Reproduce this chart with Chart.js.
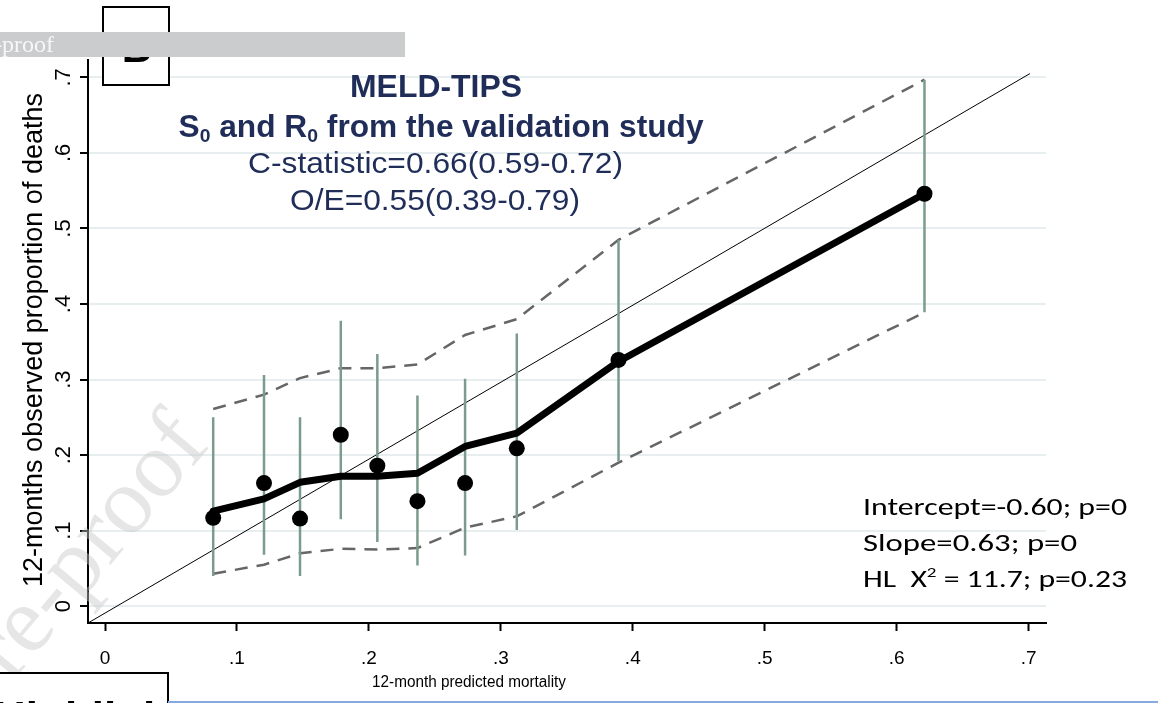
<!DOCTYPE html>
<html>
<head>
<meta charset="utf-8">
<script src="https://cdn.jsdelivr.net/npm/chart.js@4.4.1/dist/chart.umd.min.js"></script>
<style>
  html, body { margin: 0; padding: 0; background: #fff; }
  #calib { display: block; }
</style>
</head>
<body>
<canvas id="calib" width="1158" height="703"></canvas>
<script>
// MELD-TIPS calibration: groups of predicted vs observed 12-month mortality
const predicted = [0.082, 0.1205, 0.1478, 0.1787, 0.2064, 0.2368, 0.2729, 0.3121, 0.3892, 0.6211];
const observed = [0.117, 0.163, 0.116, 0.227, 0.186, 0.139, 0.163, 0.209, 0.326, 0.546];
const obsLow = [0.040, 0.068, 0.040, 0.115, 0.085, 0.054, 0.067, 0.101, 0.192, 0.389];
const obsHigh = [0.250, 0.306, 0.250, 0.378, 0.334, 0.279, 0.301, 0.361, 0.485, 0.697];

// smoothed calibration curve and its band
const smooth = [0.126, 0.142, 0.164, 0.172, 0.172, 0.176, 0.2115, 0.229, 0.324, 0.546];
const bandHigh = [0.261, 0.280, 0.302, 0.315, 0.315, 0.320, 0.359, 0.380, 0.485, 0.697];
const bandLow = [0.043, 0.055, 0.070, 0.076, 0.075, 0.077, 0.104, 0.119, 0.190, 0.389];

// reference line, corner to corner
const refX = [-0.0129, 0.701];
const refY = [-0.0222, 0.705];

const xTicks = [0, 0.1, 0.2, 0.3, 0.4, 0.5, 0.6, 0.7];
const yTicks = [0, 0.1, 0.2, 0.3, 0.4, 0.5, 0.6, 0.7];
const xRange = [-0.0129, 0.7132];
const yRange = [-0.0222, 0.723];

const titleLines = ['MELD-TIPS', 'from the validation study', 'C-statistic=0.66(0.59-0.72)', 'O/E=0.55(0.39-0.79)'];
const statLines = ['Intercept=-0.60; p=0', 'Slope=0.63; p=0', ' = 11.7; p=0.23'];
const xTitle = '12-month predicted mortality';
const yTitle = '12-months observed proportion of deaths';

const ARIAL = '"Liberation Sans", Arial, sans-serif';
const CALIBRI = 'Carlito, Lato, sans-serif';
const SERIF = '"Liberation Serif", "Times New Roman", serif';
const NAVY = '#1f2d58';

const pairs = (xs, ys) => xs.map((x, i) => ({ x: x, y: ys[i] }));

function spikes() {
    const out = [];
    predicted.forEach((x, i) => {
        out.push({ x: x, y: obsLow[i] }, { x: x, y: obsHigh[i] }, { x: x, y: null });
    });
    return out;
}

const tickText = v => v === 0 ? '0' : v.toFixed(1).replace(/^0/, '');

// draws a run of text pieces squeezed or stretched to a given width
function fitText(ctx, parts, x, y, width, align) {
    let total = 0;
    parts.forEach(p => { ctx.font = p.font; p.w = ctx.measureText(p.t).width; total += p.w; });
    const k = width / total;
    const x0 = align === 'left' ? x : x - width / 2;
    ctx.save();
    ctx.translate(x0, y);
    ctx.scale(k, 1);
    ctx.textAlign = 'left';
    ctx.textBaseline = 'alphabetic';
    let cx = 0;
    parts.forEach(p => { ctx.font = p.font; ctx.fillText(p.t, cx, p.dy || 0); cx += p.w; });
    ctx.restore();
}

const watermark = {
    id: 'watermark',
    beforeDatasetsDraw(chart) {
        const ctx = chart.ctx;
        ctx.save();
        ctx.translate(211, 445);
        ctx.rotate(-50 * Math.PI / 180);
        ctx.font = '95px ' + SERIF;
        ctx.fillStyle = 'rgba(200,200,200,0.45)';
        ctx.textAlign = 'right';
        ctx.fillText('Journal Pre-proof', 0, 0);
        ctx.restore();
    }
};

const annotations = {
    id: 'annotations',
    afterDraw(chart) {
        const ctx = chart.ctx;
        const xs = chart.scales.x, ys = chart.scales.y;
        ctx.save();
        ctx.fillStyle = '#000';

        // tick labels
        ctx.font = '19px ' + ARIAL;
        ctx.textAlign = 'center';
        ctx.textBaseline = 'alphabetic';
        xs.ticks.forEach(t => ctx.fillText(tickText(t.value), xs.getPixelForValue(t.value), 663.5));
        ctx.font = '22px ' + ARIAL;
        ys.ticks.forEach(t => {
            ctx.save();
            ctx.translate(70, ys.getPixelForValue(t.value));
            ctx.rotate(-Math.PI / 2);
            ctx.fillText(tickText(t.value), 0, 0);
            ctx.restore();
        });

        // axis titles
        fitText(ctx, [{ t: xTitle, font: '16px ' + ARIAL }], 469, 687, 194);
        ctx.save();
        ctx.translate(42, 340);
        ctx.rotate(-Math.PI / 2);
        fitText(ctx, [{ t: yTitle, font: '27px ' + ARIAL }], 0, 0, 494);
        ctx.restore();

        // heading block
        ctx.fillStyle = NAVY;
        const bold = 'bold 31px ' + ARIAL, sub = 'bold 19px ' + ARIAL;
        fitText(ctx, [{ t: titleLines[0], font: bold }], 436, 97, 172);
        fitText(ctx, [
            { t: 'S', font: bold }, { t: '0', font: sub, dy: 5 },
            { t: ' and R', font: bold }, { t: '0', font: sub, dy: 5 },
            { t: ' ' + titleLines[1], font: bold }
        ], 441, 137, 525);
        fitText(ctx, [{ t: titleLines[2], font: '29px ' + ARIAL }], 435.5, 173, 375);
        fitText(ctx, [{ t: titleLines[3], font: '29px ' + ARIAL }], 435, 210, 290);

        // calibration statistics
        ctx.fillStyle = '#000';
        const cal = '25px ' + CALIBRI;
        fitText(ctx, [{ t: statLines[0], font: cal }], 863, 515, 264, 'left');
        fitText(ctx, [{ t: statLines[1], font: cal }], 863, 551, 214, 'left');
        fitText(ctx, [
            { t: 'HL  X', font: cal }, { t: '2', font: '15px ' + CALIBRI, dy: -10 },
            { t: statLines[2], font: cal }
        ], 863, 587, 264, 'left');

        // panel letter box
        ctx.fillStyle = '#fff';
        ctx.fillRect(103, 7, 66, 78);
        ctx.strokeStyle = '#000';
        ctx.lineWidth = 2;
        ctx.strokeRect(103, 7, 66, 78);
        ctx.fillStyle = '#000';
        ctx.font = 'bold 42px ' + ARIAL;
        ctx.textAlign = 'center';
        ctx.fillText('B', 137, 62);

        // page header strip
        ctx.fillStyle = '#cbcccd';
        ctx.fillRect(0, 32, 405, 25);
        ctx.fillStyle = '#f7f7f7';
        ctx.font = '24px ' + SERIF;
        ctx.textAlign = 'right';
        ctx.fillText('Journal Pre-proof', 54, 52);

        // box at the lower left and page rule
        ctx.fillStyle = '#fff';
        ctx.fillRect(0, 672, 168, 40);
        ctx.beginPath();
        ctx.moveTo(0, 673);
        ctx.lineTo(168, 673);
        ctx.lineTo(168, 703);
        ctx.stroke();
        ctx.fillStyle = '#000';
        ctx.font = 'bold 44px ' + ARIAL;
        ctx.textAlign = 'left';
        ctx.fillText('Highlights', -6, 733);
        ctx.strokeStyle = '#86a9df';
        ctx.beginPath();
        ctx.moveTo(168, 702);
        ctx.lineTo(1158, 702);
        ctx.stroke();
        ctx.restore();
    }
};

const ctx = document.getElementById('calib').getContext('2d');
new Chart(ctx, {
    type: 'scatter',
    data: {
        datasets: [
            {
                data: pairs(predicted, observed),
                pointRadius: 8,
                pointBackgroundColor: '#000',
                pointBorderWidth: 0,
                showLine: false,
                order: 0
            },
            {
                data: pairs(predicted, smooth),
                showLine: true,
                borderColor: '#000',
                borderWidth: 7,
                borderCapStyle: 'round',
                borderJoinStyle: 'round',
                pointRadius: 0,
                order: 1
            },
            {
                data: spikes(),
                showLine: true,
                spanGaps: false,
                borderColor: '#7b9c8d',
                borderWidth: 2.5,
                pointRadius: 0,
                order: 2
            },
            {
                data: pairs(refX, refY),
                showLine: true,
                borderColor: '#000',
                borderWidth: 1,
                pointRadius: 0,
                order: 3
            },
            {
                data: pairs(predicted, bandHigh),
                showLine: true,
                borderColor: '#666',
                borderWidth: 2.5,
                borderDash: [13, 9],
                pointRadius: 0,
                order: 4
            },
            {
                data: pairs(predicted, bandLow),
                showLine: true,
                borderColor: '#666',
                borderWidth: 2.5,
                borderDash: [13, 9],
                pointRadius: 0,
                order: 4
            }
        ]
    },
    options: {
        responsive: false,
        animation: false,
        events: [],
        layout: { padding: { top: 60, right: 112, left: 0, bottom: 0 } },
        plugins: { legend: { display: false }, tooltip: { enabled: false } },
        scales: {
            x: {
                type: 'linear',
                min: xRange[0],
                max: xRange[1],
                afterBuildTicks: s => { s.ticks = xTicks.map(v => ({ value: v })); },
                afterFit: s => { s.height = 80; },
                ticks: { display: false },
                grid: { drawOnChartArea: false, drawTicks: true, tickLength: 8, tickColor: '#000', tickWidth: 2 },
                border: { color: '#000', width: 2 }
            },
            y: {
                type: 'linear',
                min: yRange[0],
                max: yRange[1],
                afterBuildTicks: s => { s.ticks = yTicks.map(v => ({ value: v })); },
                afterFit: s => { s.width = 88; },
                ticks: { display: false },
                grid: { color: '#e6eef0', lineWidth: 2, drawTicks: true, tickLength: 8, tickColor: '#000', tickWidth: 2 },
                border: { color: '#000', width: 2 }
            }
        }
    },
    plugins: [watermark, annotations]
});
</script>
</body>
</html>
